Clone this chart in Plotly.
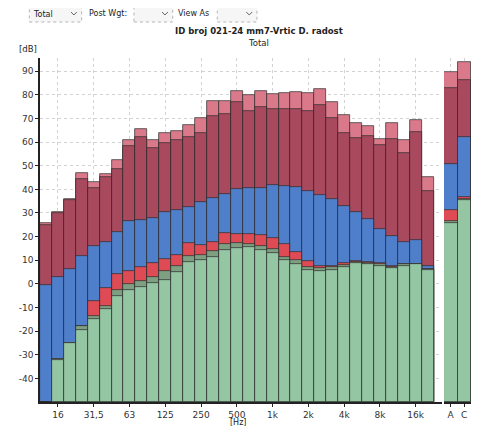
import plotly.graph_objects as go

# ---------------- data ----------------
bands = ["12.5", "16", "20", "25", "31,5", "40", "50", "63", "80", "100", "125", "160",
         "200", "250", "315", "400", "500", "630", "800", "1k", "1.25k", "1.6k", "2k",
         "2.5k", "3.15k", "4k", "5k", "6.3k", "8k", "10k", "12.5k", "16k", "20k"]
tick_bands = ["16", "31,5", "63", "125", "250", "500", "1k", "2k", "4k", "8k", "16k"]
tick_text = ["16", "31,5", "63", "125", "250", "500", "1k", "2k", "4k", "8k", "16k"]

pink = [25.6, 30.4, 36.0, 47.0, 43.0, 46.5, 52.5, 60.8, 65.4, 60.8, 64.0, 64.8, 67.3,
        70.2, 77.5, 77.5, 81.7, 80.0, 81.7, 80.3, 80.7, 81.4, 80.7, 82.6, 76.8, 71.6,
        68.0, 66.9, 61.3, 68.0, 61.0, 69.3, 45.1]
maroon = [25.0, 30.0, 35.5, 44.4, 40.6, 45.3, 48.6, 58.5, 62.3, 57.7, 59.8, 61.0, 62.0,
          64.0, 71.1, 72.1, 76.8, 73.0, 74.9, 74.0, 74.0, 74.0, 73.2, 75.5, 70.4, 63.7,
          61.7, 62.7, 58.7, 61.5, 55.6, 64.1, 39.4]
blue = [-0.3, 2.8, 6.2, 11.8, 16.2, 17.9, 22.1, 26.8, 27.0, 27.7, 30.6, 31.3, 32.7, 34.5,
        36.3, 38.0, 40.1, 40.6, 40.6, 42.0, 41.5, 41.1, 39.4, 37.6, 35.9, 33.1, 30.6,
        27.5, 23.2, 20.4, 17.6, 18.7, 7.7]
red = [-50.0, -32.0, -25.0, -18.0, -7.3, -1.7, 4.2, 5.3, 7.0, 8.7, 10.5, 12.3, 17.1, 16.5,
       17.8, 21.6, 21.1, 21.1, 20.5, 19.4, 16.8, 13.4, 9.5, 7.7, 7.5, 8.9, 9.6, 9.4, 8.9,
       7.5, 8.5, 8.5, 6.5]
olive = [-50.0, -32.0, -25.0, -18.0, -13.5, -9.5, -2.5, 0.0, 1.1, 3.1, 5.3, 7.7, 12.0,
         12.4, 13.8, 17.0, 17.2, 16.9, 16.2, 14.8, 11.3, 9.9, 7.1, 6.8, 7.0, 8.0, 9.2,
         8.8, 8.2, 7.0, 8.2, 8.4, 6.2]
green = [-50.0, -32.1, -25.1, -19.5, -15.0, -10.8, -5.0, -2.8, -1.4, 0.3, 1.5, 4.9, 9.2,
         10.0, 11.2, 14.4, 15.3, 15.5, 14.2, 12.9, 10.0, 8.6, 5.7, 5.6, 5.9, 7.3, 8.9,
         8.4, 7.7, 6.8, 7.4, 8.2, 5.9]

tot_labels = ["A", "C"]
tot_pink = [89.7, 93.7]
tot_maroon = [82.7, 86.2]
tot_blue = [50.7, 62.0]
tot_red = [31.3, 36.6]
tot_olive = [26.8, 36.0]
tot_green = [25.8, 35.3]

y_ticks = [-40, -30, -20, -10, 0, 10, 20, 30, 40, 50, 60, 70, 80, 90]
BASE = -50.0

# ---------------- style ----------------
# the page body has an 8px margin, so the figure starts at (8, 8) in the window
OFF = 8
W, H = 482 - OFF, 435 - OFF
PL, PR, PT, PB = 26, 471, 58, 402          # plot area in window pixels
ML, MR, MT, MB = PL - OFF, W - (PR - OFF), PT - OFF, H - (PB - OFF)
PW, PH = PR - PL, PB - PT


def px(x):
    return (x - PL) / PW


def py(y):
    return (PB - y) / PH


colors = {"pink": "#d9798a", "maroon": "#a8495e", "blue": "#4f7fca",
          "red": "#df4b55", "olive": "#7f9f82", "green": "#95c6a3"}
layers = [("pink", pink, tot_pink), ("maroon", maroon, tot_maroon),
          ("blue", blue, tot_blue), ("red", red, tot_red),
          ("olive", olive, tot_olive), ("green", green, tot_green)]
FONT = "DejaVu Sans"

fig = go.Figure()
for name, vals, tvals in layers:
    fig.add_trace(go.Bar(
        x=bands, y=[v - BASE for v in vals], base=BASE, name=name,
        marker=dict(color=colors[name], line=dict(color="#2b2b2b", width=0.7)),
        xaxis="x", yaxis="y", showlegend=False))
    fig.add_trace(go.Bar(
        x=tot_labels, y=[v - BASE for v in tvals], base=BASE, name=name,
        marker=dict(color=colors[name], line=dict(color="#2b2b2b", width=0.7)),
        xaxis="x2", yaxis="y2", showlegend=False))

grid = dict(showgrid=True, gridcolor="#d2d2d2", griddash="dot", gridwidth=1)
fig.update_layout(
    width=W, height=H, margin=dict(l=ML, r=MR, t=MT, b=MB),
    paper_bgcolor="white", plot_bgcolor="white",
    barmode="overlay", bargap=0,
    font=dict(family=FONT, size=9, color="#333333"),
    xaxis=dict(domain=[0, px(441)], type="category", categoryorder="array",
               categoryarray=bands, range=[-0.5, 33.2],
               tickmode="array", tickvals=tick_bands, ticktext=tick_text,
               ticks="outside", ticklen=3, tickcolor="#222", showline=True,
               linecolor="#222", linewidth=1.5, zeroline=False, **grid),
    yaxis=dict(range=[BASE, 95.6], tickmode="array", tickvals=y_ticks,
               ticktext=[str(v) for v in y_ticks], ticks="outside", ticklen=3,
               tickcolor="#222", showline=True, linecolor="#222", linewidth=1.5,
               zeroline=False, **grid),
    xaxis2=dict(domain=[px(443), 1.0], anchor="y2", type="category",
                range=[-0.5, 1.5], ticks="outside", ticklen=3, tickcolor="#222",
                showline=True, linecolor="#222", linewidth=1.5, zeroline=False, **grid),
    yaxis2=dict(range=[BASE, 95.6], anchor="x2", showticklabels=False,
                showgrid=False, zeroline=False, showline=False),
)

anns = [
    dict(x=px(252), y=py(31), text="<b>ID broj 021-24 mm7-Vrtic D. radost</b>", size=8.5),
    dict(x=px(252), y=py(43), text="Total", size=8.5),
    dict(x=px(230), y=py(423), text="[Hz]", size=8),
    dict(x=px(14), y=py(49), text="[dB]", size=8.5),
    dict(x=px(29), y=py(14), text="Total", size=8),
    dict(x=px(96), y=py(13), text="Post Wgt:", size=8),
    dict(x=px(185), y=py(13), text="View As", size=8),
]
for a in anns:
    fig.add_annotation(x=a["x"], y=a["y"], xref="paper", yref="paper", text=a["text"],
                       showarrow=False, xanchor="center", yanchor="middle",
                       font=dict(family=FONT, size=a["size"], color="#222"))

# dropdown boxes and chevrons
for x0, x1 in [(15, 69), (123, 163), (209, 250)]:
    fig.add_shape(type="rect", xref="paper", yref="paper",
                  x0=px(x0), x1=px(x1), y0=py(22), y1=py(5),
                  line=dict(color="#b5b5b5", width=1, dash="dot"),
                  fillcolor="#f6f6f6")
    cx = x1 - 8
    fig.add_shape(type="path", xref="paper", yref="paper",
                  path=f"M {px(cx-3)} {py(12)} L {px(cx)} {py(15)} L {px(cx+3)} {py(12)}",
                  line=dict(color="#666", width=1))

fig.write_html("out.html")
